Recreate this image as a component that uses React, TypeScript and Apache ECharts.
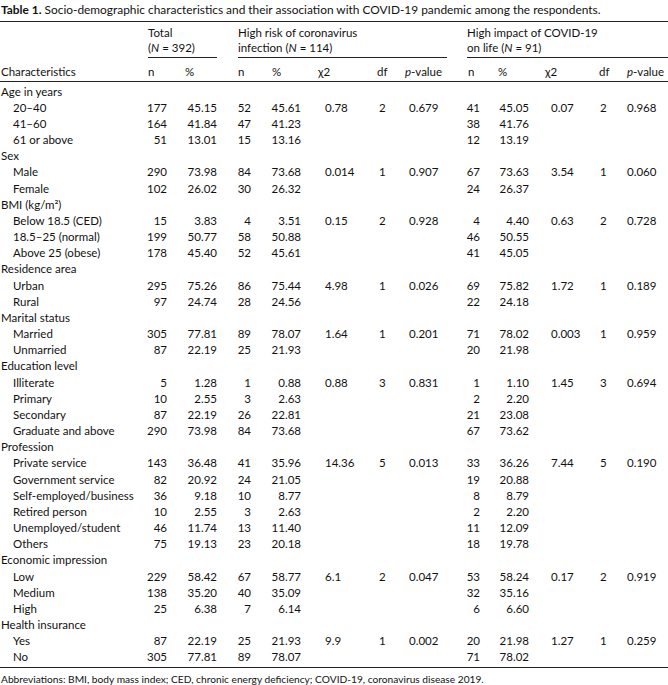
import React, { useEffect, useRef } from "react";
import * as echarts from "echarts";

const titleBold = "Table 1.";
const titleRest = "Socio-demographic characteristics and their association with COVID-19 pandemic among the respondents.";
const footnote = "Abbreviations: BMI, body mass index; CED, chronic energy deficiency; COVID-19, coronavirus disease 2019.";

const groupHeaders = [
  ["Total", "({i|N} = 392)"],
  ["High risk of coronavirus", "infection ({i|N} = 114)"],
  ["High impact of COVID-19", "on life ({i|N} = 91)"],
];
const columnHeaders = ["n", "%", "n", "%", "χ2", "df", "{i|p}-value", "n", "%", "χ2", "df", "{i|p}-value"];

const rowLabels = [
  "Age in years", "20–40", "41–60", "61 or above",
  "Sex", "Male", "Female",
  "BMI (kg/m²)", "Below 18.5 (CED)", "18.5–25 (normal)", "Above 25 (obese)",
  "Residence area", "Urban", "Rural",
  "Marital status", "Married", "Unmarried",
  "Education level", "Illiterate", "Primary", "Secondary", "Graduate and above",
  "Profession", "Private service", "Government service", "Self-employed/business", "Retired person", "Unemployed/student", "Others",
  "Economic impression", "Low", "Medium", "High",
  "Health insurance", "Yes", "No",
];
const groupRows = ["Age in years", "Sex", "BMI (kg/m²)", "Residence area", "Marital status", "Education level", "Profession", "Economic impression", "Health insurance"];

const totalN = ["", "177", "164", "51", "", "290", "102", "", "15", "199", "178", "", "295", "97", "", "305", "87", "", "5", "10", "87", "290", "", "143", "82", "36", "10", "46", "75", "", "229", "138", "25", "", "87", "305"];
const totalPct = ["", "45.15", "41.84", "13.01", "", "73.98", "26.02", "", "3.83", "50.77", "45.40", "", "75.26", "24.74", "", "77.81", "22.19", "", "1.28", "2.55", "22.19", "73.98", "", "36.48", "20.92", "9.18", "2.55", "11.74", "19.13", "", "58.42", "35.20", "6.38", "", "22.19", "77.81"];
const riskN = ["", "52", "47", "15", "", "84", "30", "", "4", "58", "52", "", "86", "28", "", "89", "25", "", "1", "3", "26", "84", "", "41", "24", "10", "3", "13", "23", "", "67", "40", "7", "", "25", "89"];
const riskPct = ["", "45.61", "41.23", "13.16", "", "73.68", "26.32", "", "3.51", "50.88", "45.61", "", "75.44", "24.56", "", "78.07", "21.93", "", "0.88", "2.63", "22.81", "73.68", "", "35.96", "21.05", "8.77", "2.63", "11.40", "20.18", "", "58.77", "35.09", "6.14", "", "21.93", "78.07"];
const riskChi = ["", "0.78", "", "", "", "0.014", "", "", "0.15", "", "", "", "4.98", "", "", "1.64", "", "", "0.88", "", "", "", "", "14.36", "", "", "", "", "", "", "6.1", "", "", "", "9.9", ""];
const riskDf = ["", "2", "", "", "", "1", "", "", "2", "", "", "", "1", "", "", "1", "", "", "3", "", "", "", "", "5", "", "", "", "", "", "", "2", "", "", "", "1", ""];
const riskP = ["", "0.679", "", "", "", "0.907", "", "", "0.928", "", "", "", "0.026", "", "", "0.201", "", "", "0.831", "", "", "", "", "0.013", "", "", "", "", "", "", "0.047", "", "", "", "0.002", ""];
const impactN = ["", "41", "38", "12", "", "67", "24", "", "4", "46", "41", "", "69", "22", "", "71", "20", "", "1", "2", "21", "67", "", "33", "19", "8", "2", "11", "18", "", "53", "32", "6", "", "20", "71"];
const impactPct = ["", "45.05", "41.76", "13.19", "", "73.63", "26.37", "", "4.40", "50.55", "45.05", "", "75.82", "24.18", "", "78.02", "21.98", "", "1.10", "2.20", "23.08", "73.62", "", "36.26", "20.88", "8.79", "2.20", "12.09", "19.78", "", "58.24", "35.16", "6.60", "", "21.98", "78.02"];
const impactChi = ["", "0.07", "", "", "", "3.54", "", "", "0.63", "", "", "", "1.72", "", "", "0.003", "", "", "1.45", "", "", "", "", "7.44", "", "", "", "", "", "", "0.17", "", "", "", "1.27", ""];
const impactDf = ["", "2", "", "", "", "1", "", "", "2", "", "", "", "1", "", "", "1", "", "", "3", "", "", "", "", "5", "", "", "", "", "", "", "2", "", "", "", "1", ""];
const impactP = ["", "0.968", "", "", "", "0.060", "", "", "0.728", "", "", "", "0.189", "", "", "0.959", "", "", "0.694", "", "", "", "", "0.190", "", "", "", "", "", "", "0.919", "", "", "", "0.259", ""];

const dataColumns = [totalN, totalPct, riskN, riskPct, riskChi, riskDf, riskP, impactN, impactPct, impactChi, impactDf, impactP];

// layout
const W = 668;
const H = 685;
const FONT = "Lato";
const FS = 11.5;
const INK = "#111";
const colAnchor = [
  { x: 167, a: "right" }, { x: 217, a: "right" }, { x: 251, a: "right" }, { x: 301, a: "right" },
  { x: 325, a: "left" }, { x: 379, a: "left" }, { x: 409, a: "left" },
  { x: 480, a: "right" }, { x: 529, a: "right" }, { x: 551, a: "left" }, { x: 600, a: "left" }, { x: 627, a: "left" },
];
const headerX = [148, 185, 238, 272, 318, 377, 405, 468, 498, 545, 599, 627];
const groupX = [148, 238, 467];
const groupLine = [[148, 217], [238, 447], [467, 668]];
const rowY0 = 91;
const rowStep = 16.17;

function txt(text: string, x: number, y: number, align = "left", fs = FS) {
  return {
    type: "text",
    x,
    y,
    silent: true,
    style: {
      text,
      fontFamily: FONT,
      fontSize: fs,
      fill: INK,
      align,
      textAlign: align,
      verticalAlign: "middle",
      textVerticalAlign: "middle",
      rich: {
        i: { fontStyle: "italic", fontFamily: FONT, fontSize: fs, fill: INK },
        b: { fontWeight: "bold", fontFamily: FONT, fontSize: fs, fill: INK },
      },
    },
  };
}
function hline(x1: number, x2: number, y: number, w = 1) {
  return { type: "line", silent: true, shape: { x1, y1: y, x2, y2: y }, style: { stroke: "#222", lineWidth: w } };
}

export default function App() {
  const ref = useRef<HTMLDivElement>(null);
  useEffect(() => {
    if (!ref.current) return;
    const chart = echarts.init(ref.current, null, { renderer: "svg" });
    const els: any[] = [];
    els.push(txt(`{b|${titleBold}} ${titleRest}`, 1, 9, "left", 11.9));
    els.push(hline(0, W, 21.5));
    groupHeaders.forEach((g, i) => {
      els.push(txt(g[0], groupX[i], 32));
      els.push(txt(g[1], groupX[i], 47));
      els.push(hline(groupLine[i][0], groupLine[i][1], 57.5));
    });
    els.push(txt("Characteristics", 1, 71));
    columnHeaders.forEach((h, i) => els.push(txt(h, headerX[i], 71)));
    els.push(hline(0, W, 81.5));
    rowLabels.forEach((lab, r) => {
      const y = rowY0 + r * rowStep;
      const isGroup = groupRows.includes(lab);
      els.push(txt(lab, isGroup ? 1 : 13, y));
      dataColumns.forEach((col, c) => {
        if (col[r]) els.push(txt(col[r], colAnchor[c].x, y, colAnchor[c].a));
      });
    });
    els.push(hline(0, W, 667.5));
    els.push(txt(footnote, 1, 679, "left", 10.2));
    chart.setOption({ animation: false, graphic: { elements: els } });
    return () => chart.dispose();
  }, []);
  return <div ref={ref} style={{ position: "fixed", left: 0, top: 0, width: W, height: H, background: "#fff" }} />;
}
